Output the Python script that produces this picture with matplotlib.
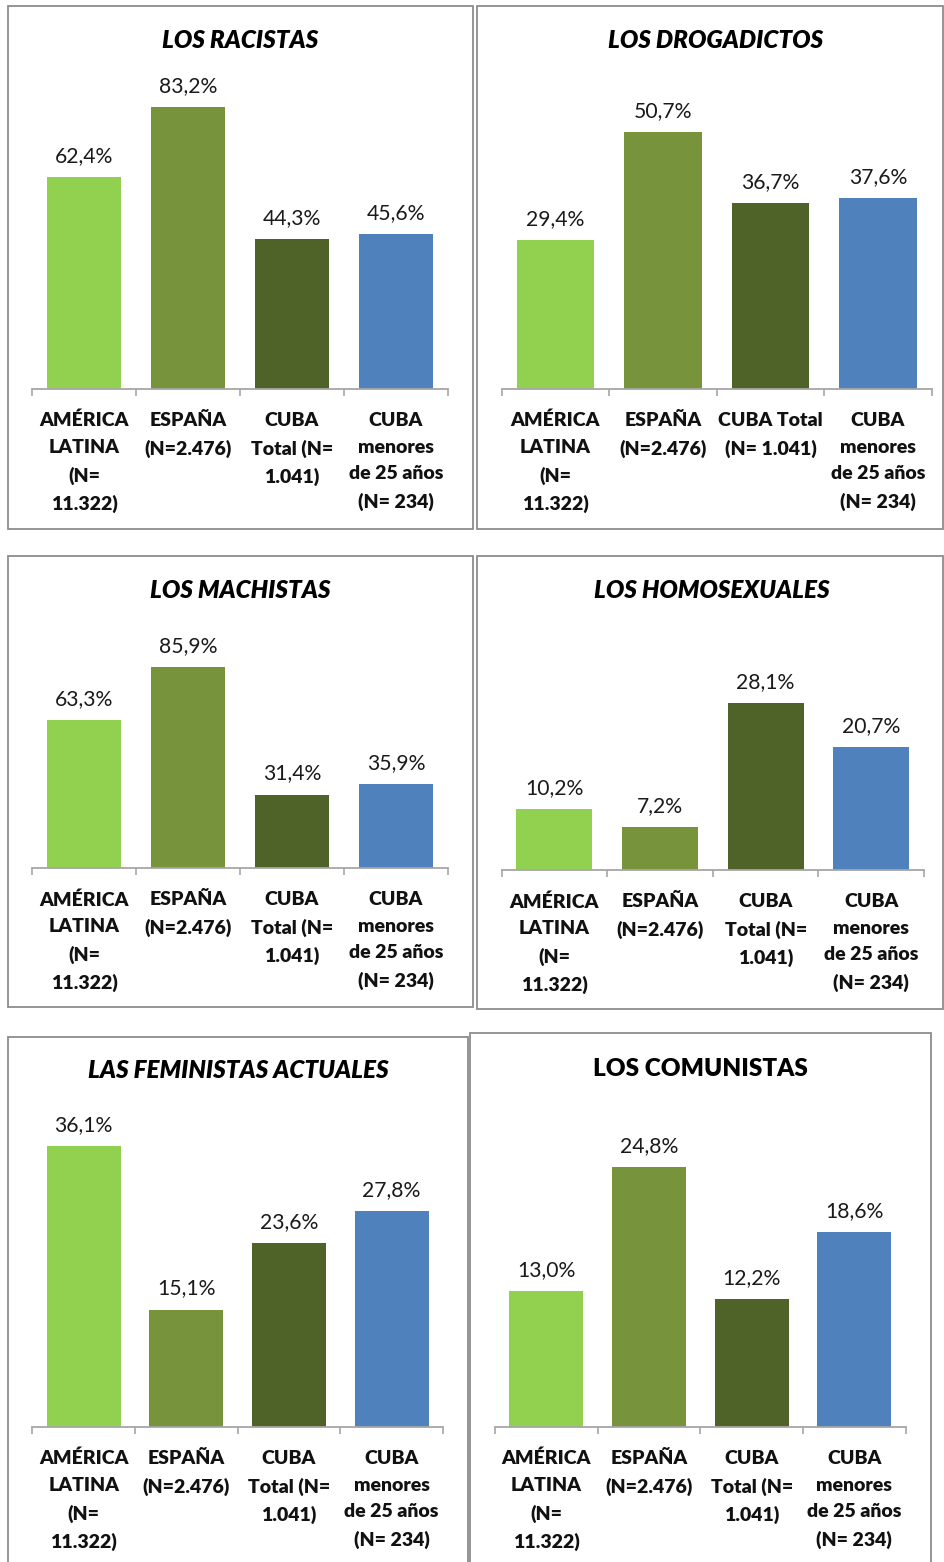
import matplotlib
matplotlib.use("Agg")
import matplotlib.pyplot as plt
from matplotlib.patches import Rectangle

plt.rcParams['font.family'] = ['Lato', 'DejaVu Sans']

W, H = 944, 1562
DPI = 100

colors = ['#92D050', '#77933C', '#4F6228', '#4F81BD']

cats_a = ["AMÉRICA\nLATINA\n(N=\n11.322)", "ESPAÑA\n(N=2.476)",
          "CUBA\nTotal (N=\n1.041)", "CUBA\nmenores\nde 25 años\n(N= 234)"]
cats_b = ["AMÉRICA\nLATINA\n(N=\n11.322)", "ESPAÑA\n(N=2.476)",
          "CUBA Total\n(N= 1.041)", "CUBA\nmenores\nde 25 años\n(N= 234)"]

titles = ["LOS RACISTAS", "LOS DROGADICTOS", "LOS MACHISTAS",
          "LOS HOMOSEXUALES", "LAS FEMINISTAS ACTUALES", "LOS COMUNISTAS"]
italic = [True, True, True, True, True, False]

racistas = [62.4, 83.2, 44.3, 45.6]
drogadictos = [29.4, 50.7, 36.7, 37.6]
machistas = [63.3, 85.9, 31.4, 35.9]
homosexuales = [10.2, 7.2, 28.1, 20.7]
feministas = [36.1, 15.1, 23.6, 27.8]
comunistas = [13.0, 24.8, 12.2, 18.6]
series = [racistas, drogadictos, machistas, homosexuales, feministas, comunistas]
cat_sets = [cats_a, cats_b, cats_a, cats_a, cats_a, cats_a]

# layout in pixels: box (x0,y0,x1,y1), axis_y, axis x0, x1, px per %, title (x,y)
layout = [
    dict(box=(8, 6, 473, 529), ay=389, ax0=32, ax1=448, sc=3.39, t=(240, 40)),
    dict(box=(477, 6, 943, 529), ay=389, ax0=501.7, ax1=931.7, sc=5.07, t=(716, 40)),
    dict(box=(8, 556, 473, 1007), ay=868, ax0=32, ax1=448, sc=2.34, t=(240, 590)),
    dict(box=(477, 556, 943, 1009), ay=870, ax0=501.7, ax1=924, sc=5.94, t=(712, 590)),
    dict(box=(8, 1037, 468, 1600), ay=1427, ax0=32.3, ax1=443, sc=7.78, t=(238, 1071)),
    dict(box=(470, 1033, 931, 1600), ay=1427, ax0=495, ax1=905.7, sc=10.48, t=(700, 1069)),
]

fig = plt.figure(figsize=(W / DPI, H / DPI), dpi=DPI)
fig.patch.set_facecolor('white')

def fx(x):
    return x / W

def fy(y):
    return 1 - y / H

for i, L in enumerate(layout):
    x0, y0, x1, y1 = L['box']
    rect = Rectangle((fx(x0), fy(y1)), fx(x1) - fx(x0), fy(y0) - fy(y1),
                     transform=fig.transFigure, fill=False,
                     edgecolor='#8C8C8C', linewidth=1.3, zorder=0)
    fig.add_artist(rect)
    fig.text(fx(L['t'][0]), fy(L['t'][1]), titles[i], ha='center', va='center',
             fontsize=17.5, fontweight='heavy',
             fontstyle='italic' if italic[i] else 'normal', color='black')

    top_y = y0 + 70
    ax = fig.add_axes([fx(L['ax0']), fy(L['ay']), fx(L['ax1']) - fx(L['ax0']),
                       fy(top_y) - fy(L['ay'])])
    ax.set_facecolor('none')
    ax.set_xlim(-0.5, 3.5)
    ax.set_ylim(0, (L['ay'] - top_y) / L['sc'])
    vals = series[i]
    ax.bar(range(4), vals, width=0.72, color=colors, zorder=2)
    for j, v in enumerate(vals):
        ax.annotate(f"{v:.1f}%".replace('.', ','), xy=(j, v), xytext=(0, 11),
                    textcoords='offset pixels', ha='center', va='bottom',
                    fontsize=15.2, color='#1a1a1a')
    for s in ['top', 'right', 'left']:
        ax.spines[s].set_visible(False)
    ax.spines['bottom'].set_color('#A6A6A6')
    ax.spines['bottom'].set_linewidth(1.3)
    ax.set_yticks([])
    ax.set_xticks([-0.5, 0.5, 1.5, 2.5, 3.5])
    ax.set_xticklabels([])
    ax.tick_params(axis='x', length=5, width=1.2, color='#A6A6A6', direction='out')
    for j, c in enumerate(cat_sets[i]):
        ax.annotate(c, xy=(j, 0), xycoords='data', xytext=(0, -23),
                    textcoords='offset pixels', ha='center', va='top',
                    fontsize=14, fontweight='heavy', linespacing=1.69,
                    color='#111111')

fig.savefig('out.png', dpi=DPI, facecolor='white')
